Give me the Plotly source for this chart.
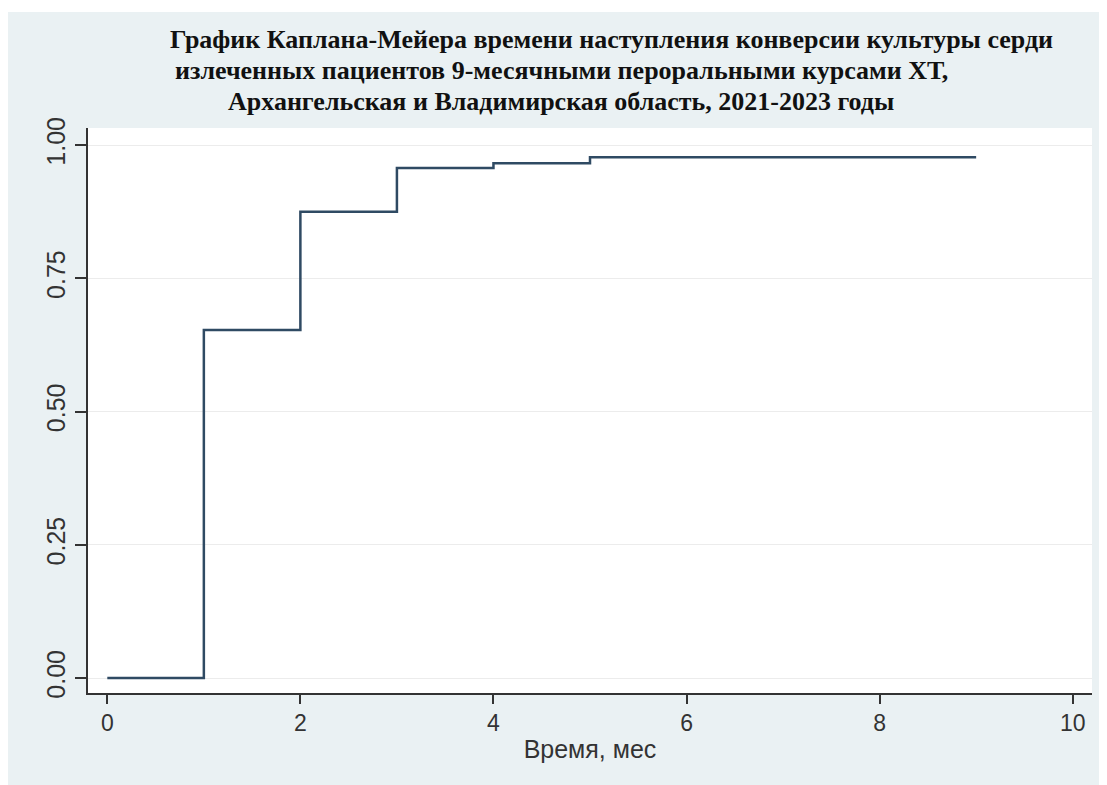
import plotly.graph_objects as go

time_months = [0, 1, 2, 3, 4, 5, 9]
conversion = [0.0, 0.653, 0.875, 0.957, 0.966, 0.977, 0.977]
x_ticks = [0, 2, 4, 6, 8, 10]
y_ticks = [0.0, 0.25, 0.5, 0.75, 1.0]
y_tick_labels = ["0.00", "0.25", "0.50", "0.75", "1.00"]
title_lines = [
    "График Каплана-Мейера времени наступления конверсии культуры серди",
    "излеченных пациентов 9-месячными пероральными курсами ХТ,",
    "Архангельская и Владимирская область, 2021-2023 годы",
]
x_title = "Время, мес"

# page is offset by the 8px body margin
OFF = 8
W, H = 1099, 777
L, R, T, B = 88 - OFF, 1092 - OFF, 128 - OFF, 693 - OFF


def px_x(p):
    return (p - OFF - L) / (R - L)


def px_y(p):
    return (B - (p - OFF)) / (B - T)


fig = go.Figure()
fig.add_trace(go.Scatter(
    x=time_months, y=conversion, mode="lines", line_shape="hv",
    line=dict(color="#2f4a63", width=2.5), showlegend=False, hoverinfo="skip",
))

title_pos = [(611, 40), (561, 71), (561, 101)]
for text, (cx, cy) in zip(title_lines, title_pos):
    fig.add_annotation(
        text="<b>" + text + "</b>", xref="paper", yref="paper",
        x=px_x(cx), y=px_y(cy), xanchor="center", yanchor="middle",
        showarrow=False,
        font=dict(family="Liberation Serif", size=26, color="#111111"),
    )

# white top strip of the outer border
fig.add_shape(type="rect", xref="paper", yref="paper",
              x0=px_x(0), x1=px_x(1200), y0=px_y(12), y1=px_y(0), fillcolor="white",
              line_width=0, layer="below")

x_tick_font = dict(family="Liberation Sans", size=23, color="#333333")
y_tick_font = dict(family="Liberation Sans", size=25, color="#333333")
title_font = dict(family="Liberation Sans", size=25, color="#333333")
fig.update_layout(
    width=W, height=H,
    margin=dict(l=L, r=W - R, t=T, b=H - B, pad=0),
    paper_bgcolor="#eaf1f3", plot_bgcolor="white",
    xaxis=dict(
        range=[-0.2, 10.2], tickvals=x_ticks, ticks="outside", ticklen=9,
        tickwidth=1.5, tickcolor="#333333", showline=True, linecolor="#333333",
        linewidth=1.5, showgrid=False, zeroline=False, tickfont=x_tick_font,
        title=dict(text=x_title, font=title_font, standoff=5),
    ),
    yaxis=dict(
        range=[-0.028, 1.032], tickvals=y_ticks, ticktext=y_tick_labels,
        ticks="outside", ticklen=11, tickwidth=1.5, tickcolor="#333333",
        showline=True, linecolor="#333333", linewidth=1.5,
        showgrid=True, gridcolor="#ececec", gridwidth=1, zeroline=False,
        tickangle=-90, tickfont=y_tick_font,
    ),
)

fig.write_html("out.html")
